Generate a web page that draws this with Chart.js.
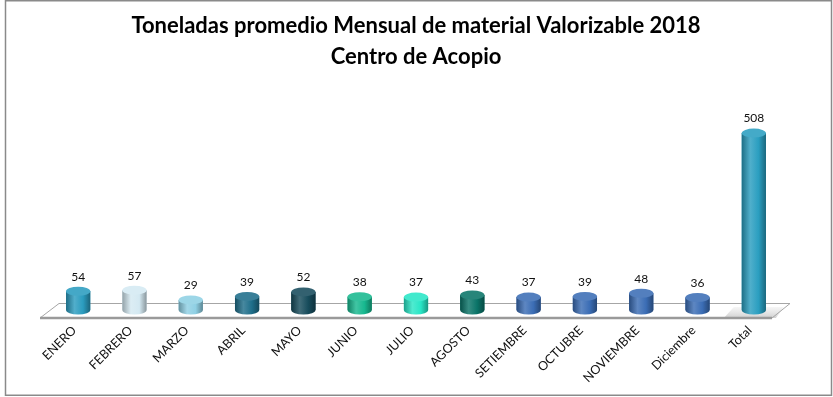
<!DOCTYPE html>
<html>
<head>
<meta charset="utf-8">
<script src="https://cdn.jsdelivr.net/npm/chart.js@4"></script>
<style>
  html,body{margin:0;padding:0;background:#fff;}
  #wrap{width:833px;height:397px;}
</style>
</head>
<body>
<div id="wrap"><canvas id="chart" width="833" height="397"></canvas></div>
<script>
/* DATA */
const months=["ENERO","FEBRERO","MARZO","ABRIL","MAYO","JUNIO","JULIO","AGOSTO","SETIEMBRE","OCTUBRE","NOVIEMBRE","Diciembre","Total"];
const tons=[54,57,29,39,52,38,37,43,37,39,48,36,508];
const barColors=["#2b9cbf","#d4e9f2","#8fd0e4","#1e6e8a","#174c5c","#17b88f","#28e6c6","#0a7468","#3b6db5","#3b6db5","#3b6db5","#3b6db5","#2a9ec0"];
const titleLines=["Toneladas promedio Mensual de material Valorizable 2018","Centro de Acopio"];

/* COLOR HELPERS */
function mix(hex,target,t){
    let r=parseInt(hex.slice(1,3),16),g=parseInt(hex.slice(3,5),16),b=parseInt(hex.slice(5,7),16);
    r=Math.round(r+(target-r)*t);g=Math.round(g+(target-g)*t);b=Math.round(b+(target-b)*t);
    return "rgb("+r+","+g+","+b+")";
}

/* FRAME + FLOOR */
const floorPlugin={
    id:"floor",
    beforeDraw(chart){
        const c=chart.ctx;
        c.save();
        c.fillStyle="#fff";
        c.fillRect(0,0,chart.width,chart.height);
        c.strokeStyle="#8a8a8a";
        c.lineWidth=1.5;
        c.strokeRect(5.5,0.75,826,394.5);
        c.restore();
    },
    beforeDatasetsDraw(chart){
        const a=chart.chartArea,c=chart.ctx;
        const fy=a.bottom+8,by=a.bottom-7;
        c.save();
        c.beginPath();
        c.moveTo(a.left-10,fy);
        c.lineTo(a.left+9,by);
        c.lineTo(a.right+8,by);
        c.lineTo(a.right-10,fy);
        c.closePath();
        c.fillStyle="#ffffff";
        c.fill();
        /* soft shadow under Total */
        const meta=chart.getDatasetMeta(0);
        const last=meta.data[meta.data.length-1];
        const sg=c.createLinearGradient(0,by,0,fy);
        sg.addColorStop(0,"rgba(200,200,200,0)");
        sg.addColorStop(1,"rgba(170,170,170,0.55)");
        c.fillStyle=sg;
        c.beginPath();
        c.moveTo(last.x-30,fy);
        c.lineTo(last.x-20,by+4);
        c.lineTo(last.x+30,by+4);
        c.lineTo(last.x+22,fy);
        c.closePath();
        c.fill();
        c.strokeStyle="#a6a6a6";
        c.lineWidth=1;
        c.beginPath();
        c.moveTo(a.left-10,fy);
        c.lineTo(a.left+9,by+0.5);
        c.lineTo(a.right+8,by+0.5);
        c.lineTo(a.right-10,fy);
        c.stroke();
        c.strokeStyle="#9a9a9a";
        c.lineWidth=2.5;
        c.beginPath();
        c.moveTo(a.left-10,fy);
        c.lineTo(a.right-10,fy);
        c.stroke();
        c.restore();
    }
};

/* CYLINDERS + LABELS */
const cylPlugin={
    id:"cyl",
    afterDatasetsDraw(chart){
        const c=chart.ctx;
        const meta=chart.getDatasetMeta(0);
        meta.data.forEach((el,i)=>{
            const p=el.getProps(["x","y","base","width"],true);
            const w=p.width,l=p.x-w/2,ry=4.5;
            const col=barColors[i];
            const g=c.createLinearGradient(l,0,l+w,0);
            g.addColorStop(0,mix(col,0,0.3));
            g.addColorStop(0.35,mix(col,255,0.18));
            g.addColorStop(0.7,col);
            g.addColorStop(1,mix(col,0,0.35));
            c.save();
            c.fillStyle=g;
            c.beginPath();
            c.moveTo(l,p.y);
            c.lineTo(l,p.base);
            c.ellipse(p.x,p.base,w/2,ry,0,Math.PI,0,true);
            c.lineTo(l+w,p.y);
            c.closePath();
            c.fill();
            c.beginPath();
            c.ellipse(p.x,p.y,w/2,ry,0,0,Math.PI*2);
            c.fillStyle=mix(col,255,0.12);
            c.fill();
            c.fillStyle="#111";
            c.font="12px 'Lato', 'DejaVu Sans', sans-serif";
            c.textAlign="center";
            c.textBaseline="bottom";
            c.fillText(String(tons[i]),p.x,p.y-ry-4);
            c.restore();
        });
    }
};

new Chart(
document.getElementById("chart"),
{
    type:"bar",
    data:{
        labels:months,
        datasets:[{
            data:tons,
            backgroundColor:barColors,
            borderWidth:0,
            categoryPercentage:1,
            barPercentage:0.43
        }]
    },
    options:{
        responsive:false,
        animation:false,
        layout:{padding:{left:50,right:51,top:0,bottom:0}},
        plugins:{
            legend:{display:false},
            tooltip:{enabled:false},
            title:{
                display:true,
                text:titleLines,
                color:"#000",
                font:{family:"Lato",size:22,weight:"bold",lineHeight:1.41},
                padding:{top:10,bottom:29}
            }
        },
        scales:{
            x:{
                grid:{display:false,drawTicks:false},
                border:{display:false},
                ticks:{
                    autoSkip:false,
                    minRotation:45,
                    maxRotation:45,
                    padding:13,
                    labelOffset:-4,
                    color:"#111",
                    font:{family:"Lato",size:12.5}
                },
                afterFit(scale){
                    scale.height=87;
                    scale.paddingLeft=0;
                    scale.paddingRight=0;
                }
            },
            y:{
                display:false,
                min:0,
                max:600
            }
        }
    },
    plugins:[floorPlugin,cylPlugin]
});
</script>
</body>
</html>
